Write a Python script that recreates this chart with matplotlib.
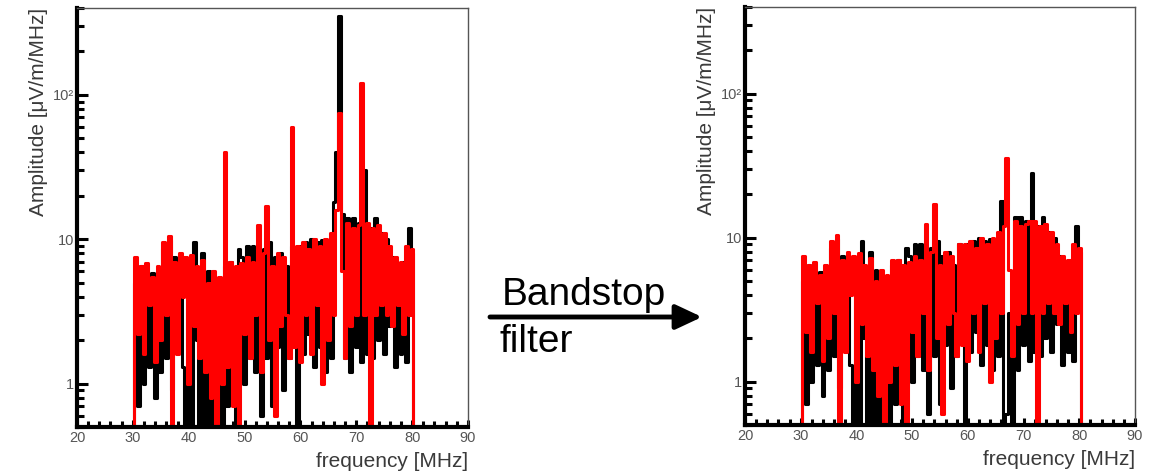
import numpy as np
import matplotlib
matplotlib.use("Agg")
import matplotlib.pyplot as plt
from matplotlib.ticker import FixedLocator, MultipleLocator, LogLocator, NullFormatter

plt.rcParams['font.family'] = ['Liberation Sans', 'DejaVu Sans']

# bin centres of the spectrum [MHz]
freq = np.arange(30.0, 80.51, 0.5)

# raw spectrum (black) and second channel (red), before the filter
black_raw = [0.3, 5.0, 0.7, 6.5, 1.0, 6.0, 1.3, 5.8, 0.8, 5.5,
             1.2, 8.5, 1.5, 9.8, 0.9, 7.5, 2.0, 7.2, 1.3, 0.4,
             6.5, 0.4, 9.5, 2.0, 0.5, 8.0, 0.45, 6.0, 0.4, 5.0,
             0.8, 4.5, 0.4, 6.5, 0.7, 7.0, 1.2, 0.4, 8.5, 7.5,
             1.0, 9.0, 1.5, 9.0, 1.2, 8.0, 0.6, 8.5, 1.5, 9.5,
             0.7, 7.5, 1.8, 8.0, 0.9, 6.5, 1.5, 9.0, 2.0, 0.4,
             9.0, 1.6, 9.5, 2.2, 10.0, 1.3, 9.5, 1.8, 9.8, 1.2,
             9.8, 1.5, 18.0, 40.0, 350.0, 15.0, 1.5, 14.0, 1.2, 14.0,
             1.8, 13.0, 1.4, 30.0, 1.6, 12.0, 1.5, 14.0, 2.0, 11.0,
             1.6, 10.0, 2.5, 7.5, 1.3, 6.5, 1.6, 7.0, 1.4, 12.0,
             8.0, 0.3]
red_raw = [0.3, 7.5, 2.2, 6.5, 1.6, 6.8, 3.5, 5.5, 1.4, 6.5,
           2.0, 9.5, 3.0, 10.5, 0.4, 7.0, 1.6, 8.0, 4.0, 7.5,
           1.0, 7.8, 2.5, 6.5, 1.5, 7.2, 1.2, 5.0, 0.8, 6.0,
           0.4, 5.5, 1.0, 40.0, 1.3, 7.0, 0.7, 6.5, 0.4, 6.8,
           2.2, 7.5, 1.5, 7.0, 3.0, 12.5, 1.2, 8.0, 17.0, 2.0,
           6.5, 0.6, 8.0, 2.5, 7.5, 3.0, 1.5, 60.0, 1.8, 9.0,
           1.4, 9.5, 3.0, 8.5, 1.6, 10.0, 3.5, 9.0, 1.0, 10.0,
           2.0, 11.0, 3.0, 16.0, 75.0, 6.0, 1.5, 13.0, 2.5, 12.0,
           3.0, 12.5, 120.0, 3.0, 13.0, 0.3, 12.0, 3.0, 12.5, 3.5,
           11.0, 3.0, 9.0, 2.5, 7.5, 3.5, 7.0, 2.2, 9.0, 3.0,
           8.5, 0.3]

# after the bandstop filter
black_filt = [0.3, 5.0, 0.7, 6.5, 1.0, 6.0, 1.3, 5.8, 0.8, 5.5,
              1.2, 8.5, 1.5, 9.8, 0.9, 7.5, 2.0, 7.2, 1.3, 0.4,
              6.5, 0.4, 9.5, 2.0, 0.5, 8.0, 0.45, 6.0, 0.4, 5.0,
              0.8, 4.5, 0.4, 6.5, 0.7, 7.0, 1.2, 0.4, 8.5, 7.5,
              1.0, 9.0, 1.5, 9.0, 1.2, 8.0, 0.6, 8.5, 1.5, 9.5,
              0.7, 7.5, 1.8, 8.0, 0.9, 6.5, 1.5, 9.0, 2.0, 0.4,
              9.0, 1.6, 9.5, 2.2, 10.0, 1.3, 9.5, 1.8, 9.8, 1.2,
              9.8, 1.5, 18.0, 0.3, 0.6, 3.0, 0.4, 14.0, 1.2, 14.0,
              1.8, 13.0, 1.4, 28.0, 1.6, 12.0, 1.5, 14.0, 2.0, 11.0,
              1.6, 10.0, 2.5, 7.5, 1.3, 6.5, 1.6, 7.0, 1.4, 12.0,
              8.0, 0.3]
red_filt = [0.3, 7.5, 2.2, 6.5, 1.6, 6.8, 3.5, 5.5, 1.4, 6.5,
            2.0, 9.5, 3.0, 10.5, 0.4, 7.0, 1.6, 8.0, 4.0, 7.5,
            1.0, 7.8, 2.5, 6.5, 1.5, 7.2, 1.2, 5.0, 0.8, 6.0,
            0.4, 5.5, 1.0, 7.0, 1.3, 7.0, 0.7, 6.5, 0.4, 6.8,
            2.2, 7.5, 1.5, 7.0, 3.0, 12.5, 1.2, 8.0, 17.0, 2.0,
            6.5, 0.6, 8.0, 2.5, 7.5, 3.0, 1.5, 9.0, 1.8, 9.0,
            1.4, 9.5, 3.0, 8.5, 1.6, 10.0, 3.5, 9.0, 1.0, 10.0,
            2.0, 11.0, 3.0, 12.0, 36.0, 6.0, 1.5, 13.0, 2.5, 12.0,
            3.0, 12.5, 13.0, 3.0, 13.0, 0.3, 12.0, 3.0, 12.5, 3.5,
            11.0, 3.0, 9.0, 2.5, 7.5, 3.5, 7.0, 2.2, 9.0, 3.0,
            8.5, 0.3]

ytick_vals = [1, 10, 100]
ytick_labels = ['1', '10', '10²']
xtick_vals = [20, 30, 40, 50, 60, 70, 80, 90]

fig = plt.figure(figsize=(11.54, 4.71), dpi=100)
ax1 = fig.add_axes([0.0667, 0.0934, 0.3388, 0.8896])
ax2 = fig.add_axes([0.6456, 0.0976, 0.3379, 0.8876])

text_col = '#3a3a3a'
for ax, blk, red in [(ax1, black_raw, red_raw), (ax2, black_filt, red_filt)]:
    ax.plot(freq, blk, drawstyle='steps-mid', color='black', lw=2.2)
    ax.plot(freq, red, drawstyle='steps-mid', color='#ff0000', lw=2.2)
    ax.set_yscale('log')
    ax.set_xlim(20, 90)
    ax.set_ylim(0.5, 400)
    ax.yaxis.set_major_locator(FixedLocator(ytick_vals))
    ax.set_yticklabels(ytick_labels)
    ax.yaxis.set_minor_locator(LogLocator(base=10, subs=np.arange(2, 10)))
    ax.yaxis.set_minor_formatter(NullFormatter())
    ax.xaxis.set_major_locator(FixedLocator(xtick_vals))
    ax.xaxis.set_minor_locator(MultipleLocator(2))
    ax.tick_params(which='both', direction='in', top=False, right=False,
                   width=2.2, colors='black', labelcolor='#555555', labelsize=10.5)
    ax.tick_params(axis='y', which='major', length=8, pad=2)
    ax.tick_params(axis='y', which='minor', length=5)
    ax.tick_params(axis='x', which='major', length=5, pad=3)
    ax.tick_params(axis='x', which='minor', length=4)
    for s in ['left', 'bottom']:
        ax.spines[s].set_linewidth(3)
        ax.spines[s].set_color('black')
    for s in ['top', 'right']:
        ax.spines[s].set_linewidth(1)
        ax.spines[s].set_color('#555555')
    ax.set_xlabel('frequency [MHz]', fontsize=15, color=text_col, loc='right', labelpad=5)
    ax.set_ylabel('Amplitude [μV/m/MHz]', fontsize=15, color=text_col, loc='top', labelpad=4)

# arrow and caption between the panels
over = fig.add_axes([0, 0, 1, 1])
over.set_xlim(0, 1154)
over.set_ylim(471, 0)
over.axis('off')
over.annotate('', xy=(702, 317), xytext=(490, 317),
              arrowprops=dict(arrowstyle='-|>,head_length=1.6,head_width=0.75',
                              lw=3.5, color='black', shrinkA=0, shrinkB=0))
over.text(502, 305, 'Bandstop', fontsize=28, color='black', ha='left', va='baseline')
over.text(500, 352, 'filter', fontsize=28, color='black', ha='left', va='baseline')

fig.savefig('out.png', dpi=100)
